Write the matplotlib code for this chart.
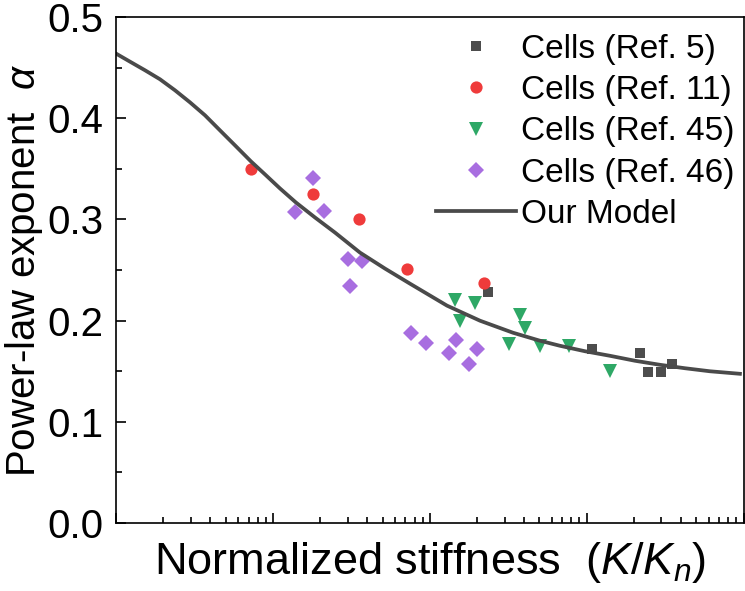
import numpy as np
import matplotlib as mpl
mpl.use('Agg')
import matplotlib.pyplot as plt
import matplotlib.ticker as mticker

plt.rcParams['font.family'] = ['Liberation Sans', 'DejaVu Sans']
plt.rcParams['mathtext.fontset'] = 'custom'
plt.rcParams['mathtext.rm'] = 'Liberation Sans'
plt.rcParams['mathtext.it'] = 'Liberation Sans:italic'

# data (x is normalized stiffness K/Kn, log scale)
ref5_x = [2.35, 10.8, 21.9, 24.6, 29.8, 35.0]
ref5_y = [0.228, 0.172, 0.168, 0.149, 0.149, 0.157]

ref11_x = [0.0724, 0.180, 0.354, 0.716, 2.21]
ref11_y = [0.350, 0.325, 0.300, 0.251, 0.237]

ref45_x = [1.45, 1.94, 1.56, 3.76, 4.05, 3.20, 5.04, 7.71, 14.1]
ref45_y = [0.220, 0.217, 0.200, 0.206, 0.193, 0.177, 0.175, 0.175, 0.150]

ref46_x = [0.180, 0.138, 0.212, 0.301, 0.370, 0.310, 0.759, 0.946, 1.47, 1.33, 1.78, 2.00]
ref46_y = [0.341, 0.307, 0.308, 0.261, 0.259, 0.234, 0.188, 0.178, 0.181, 0.168, 0.157, 0.172]

model_x = [0.0100, 0.01228, 0.01530, 0.01907, 0.02377, 0.02962, 0.03692, 0.04601,
           0.05734, 0.07251, 0.08906, 0.1110, 0.1403, 0.1855, 0.2488, 0.3590,
           0.5183, 0.7478, 1.287, 2.089, 3.391, 5.040, 6.757, 9.754, 14.08,
           20.31, 29.32, 42.31, 61.07, 94.87]
model_y = [0.464, 0.456, 0.4475, 0.4386, 0.4277, 0.4158, 0.4030, 0.3881,
           0.3733, 0.3574, 0.3446, 0.3307, 0.3168, 0.3020, 0.2871, 0.2673,
           0.2515, 0.2366, 0.2149, 0.2000, 0.1881, 0.1802, 0.1752, 0.1698, 0.1653,
           0.1604, 0.1564, 0.1530, 0.1500, 0.1475]

fig = plt.figure(figsize=(7.45, 5.91), dpi=100)
ax = fig.add_axes([0.1557, 0.115, 0.8423, 0.856])

ax.plot(ref5_x, ref5_y, 's', color='#4d4d4d', ms=7.5, mew=0, label='Cells (Ref. 5)')
ax.plot(ref11_x, ref11_y, 'o', color='#ef3b3b', ms=8.8, mew=0, label='Cells (Ref. 11)')
ax.plot(ref45_x, ref45_y, 'v', color='#2ea866', ms=9.8, mew=0, label='Cells (Ref. 45)')
ax.plot(ref46_x, ref46_y, 'D', color='#a86ee0', ms=8.3, mew=0, label='Cells (Ref. 46)')
ax.plot(model_x, model_y, '-', color='#4a4a4a', lw=2.7, label='Our Model')

ax.set_xscale('log')
ax.set_xlim(0.01, 100)
ax.set_ylim(0, 0.5)
ax.xaxis.set_major_locator(mticker.LogLocator(base=10, numticks=10))
ax.xaxis.set_minor_locator(mticker.LogLocator(base=10, subs=np.arange(2, 10), numticks=20))
ax.xaxis.set_major_formatter(mticker.NullFormatter())
ax.xaxis.set_minor_formatter(mticker.NullFormatter())
ax.yaxis.set_major_locator(mticker.MultipleLocator(0.1))
ax.yaxis.set_minor_locator(mticker.MultipleLocator(0.05))
ax.yaxis.set_major_formatter(mticker.FormatStrFormatter('%.1f'))

ax.tick_params(which='both', direction='in', top=False, right=False, width=1.2)
ax.tick_params(which='major', length=7, labelsize=29, pad=9)
ax.tick_params(which='minor', length=4)
for s in ax.spines.values():
    s.set_linewidth(1.2)

ax.set_ylabel(r'Power-law exponent  $\mathit{\alpha}$', fontsize=29, labelpad=2)
ax.set_xlabel(r'Normalized stiffness  ($K$/$K_n$)', fontsize=32.5, labelpad=3)

ax.legend(loc='upper right', frameon=False, fontsize=24, handlelength=2.4,
          handletextpad=0.15, labelspacing=0.31, borderaxespad=0.1,
          bbox_to_anchor=(1.012, 1.0))

fig.savefig('out.png', dpi=100)
